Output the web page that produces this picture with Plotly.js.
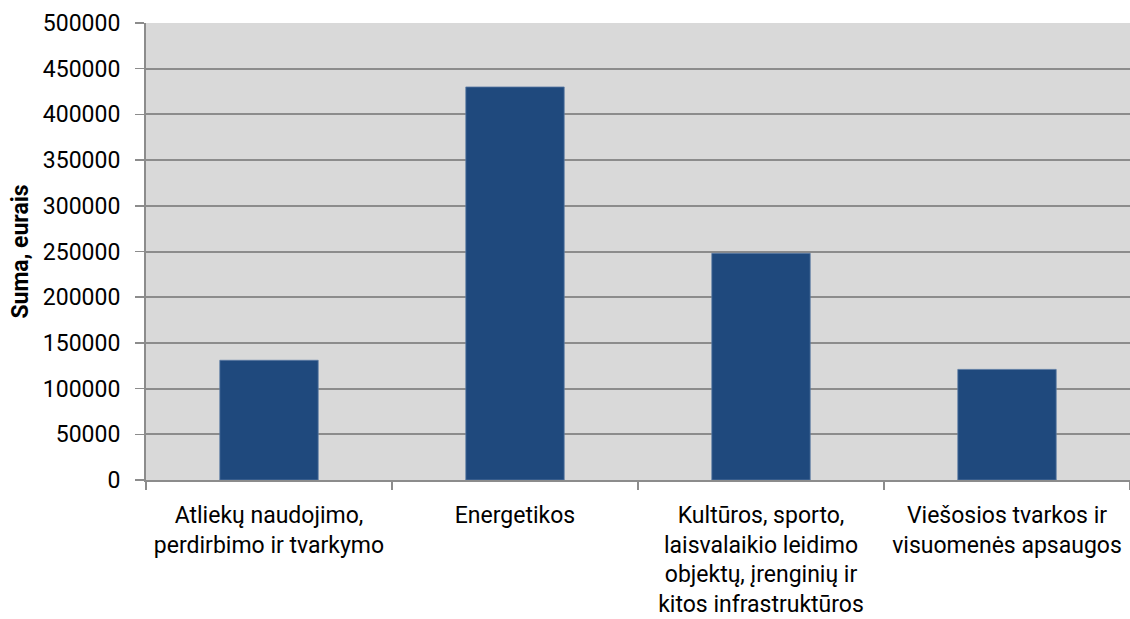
<!DOCTYPE html>
<html>
<head>
<meta charset="utf-8">
<script src="https://cdn.plot.ly/plotly-3.0.1.min.js"></script>
<style>html,body{margin:0;padding:0;background:#fff;}#chart{width:1130px;height:619px;}</style>
</head>
<body>
<div id="chart"></div>
<script>
var categories = [
  "Atliekų naudojimo,<br>perdirbimo ir tvarkymo",
  "Energetikos",
  "Kultūros, sporto,<br>laisvalaikio leidimo<br>objektų, įrenginių ir<br>kitos infrastruktūros",
  "Viešosios tvarkos ir<br>visuomenės apsaugos"
];
var values = [131000, 430000, 248000, 121000];
var yTickValues = [0, 50000, 100000, 150000, 200000, 250000, 300000, 350000, 400000, 450000, 500000];
var yTickLabels = ["0", "50000", "100000", "150000", "200000", "250000", "300000", "350000", "400000", "450000", "500000"];
var yTitle = "Suma, eurais";

var FONT = "Roboto, 'Liberation Sans', Arial, sans-serif";

var trace = {
  type: "bar",
  x: categories,
  y: values,
  width: 0.4,
  marker: {color: "#1f497d", line: {color: "#5a7aa3", width: 0.8}},
  hoverinfo: "none"
};

var layout = {
  width: 1130,
  height: 619,
  margin: {l: 146, r: 0, t: 23, b: 139},
  paper_bgcolor: "#ffffff",
  plot_bgcolor: "#d9d9d9",
  showlegend: false,
  font: {family: FONT, color: "#000000", size: 22},
  xaxis: {
    type: "category",
    showgrid: false,
    showline: true,
    linecolor: "#8c8c8c",
    linewidth: 2,
    ticks: "outside",
    tickson: "boundaries",
    ticklen: 8,
    tickwidth: 1.5,
    tickcolor: "#8c8c8c",
    ticklabelstandoff: 13,
    tickfont: {family: FONT, size: 23, color: "#000"},
    zeroline: false
  },
  yaxis: {
    range: [0, 500000],
    tickvals: yTickValues,
    ticktext: yTickLabels,
    showgrid: true,
    gridcolor: "#8c8c8c",
    gridwidth: 2,
    showline: true,
    linecolor: "#8c8c8c",
    linewidth: 2,
    ticks: "outside",
    ticklen: 9,
    tickwidth: 1.5,
    tickcolor: "#8c8c8c",
    ticklabelstandoff: 10,
    tickfont: {family: FONT, size: 23, color: "#000"},
    zeroline: false,
    title: {text: "<b>" + yTitle + "</b>", standoff: 8, font: {family: FONT, size: 23, color: "#000"}}
  }
};

Plotly.newPlot("chart", [trace], layout, {staticPlot: true, displayModeBar: false});
</script>
</body>
</html>
